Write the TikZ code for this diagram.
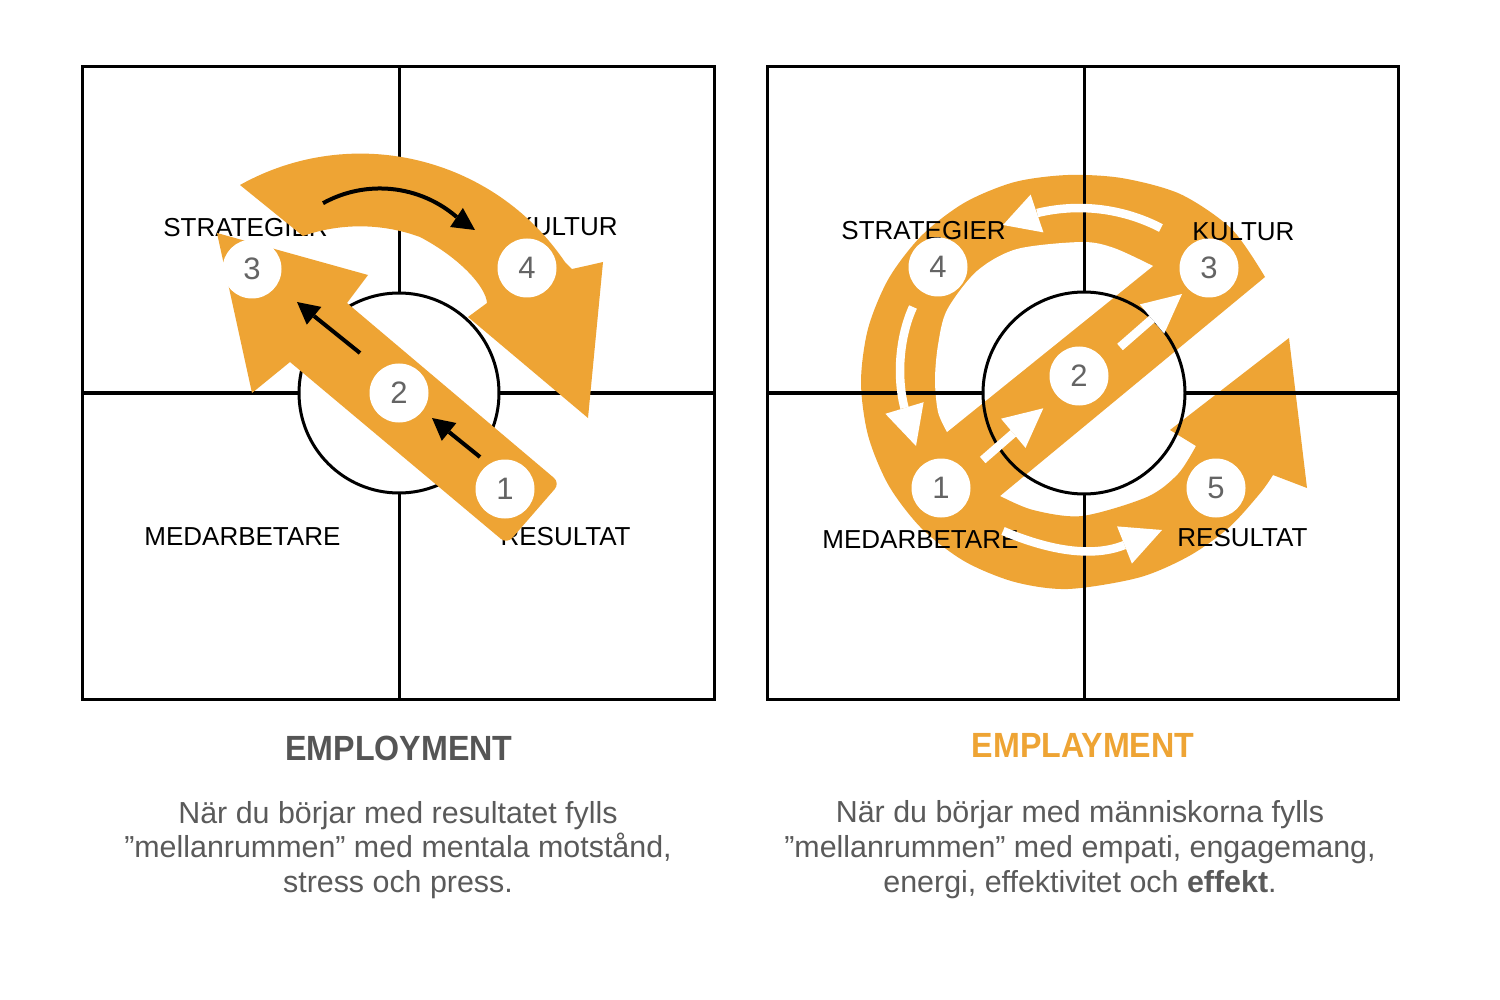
\documentclass[tikz,border=0pt]{standalone}
\usepackage{fontspec}
\setmainfont{Liberation Sans}
\usepackage{graphicx}
\definecolor{orng}{RGB}{238,164,52}
\definecolor{numgray}{RGB}{100,100,100}
\definecolor{txtgray}{RGB}{90,90,90}
\definecolor{ttlgray}{RGB}{85,85,85}
\begin{document}
\begin{tikzpicture}[x=0.5pt,y=-0.5pt,
  frame/.style={line width=1.5pt, draw=black},
  lbl/.style={anchor=base west, inner sep=0pt, font=\fontsize{13}{15}\selectfont},
  numc/.style={circle, fill=white, minimum size=29.5pt, inner sep=0pt, text=numgray, font=\fontsize{15.5}{18}\selectfont},
  blk/.style={line width=2pt, draw=black},
  wht/.style={line width=4.25pt, draw=white},
  body/.style={anchor=base, inner sep=0pt, text=txtgray, font=\fontsize{15.2}{17}\selectfont},
  ttl/.style={anchor=base, inner sep=0pt, font=\fontsize{17.5}{20}\selectfont\bfseries}
]
\fill[white] (0,0) rectangle (1500,1000);
\useasboundingbox (0,0) rectangle (1500,1000);

% ================= LEFT =================
\draw[frame] (82,67) rectangle (714,699);
\draw[frame] (399,67) -- (399,293);
\draw[frame] (399,493) -- (399,699);
\draw[frame] (82,393) -- (299,393);
\draw[frame] (499,393) -- (714,393);
\draw[frame] (399,393) circle[radius=100];

\node[lbl] (ls) at (163,237) {STRATEGIER};
\node[lbl, anchor=base east] (lk) at (618,236) {KULTUR};
\node[lbl] (lm) at (144,545) {MEDARBETARE};
\node[lbl, anchor=base east] (lr) at (631,545) {RESULTAT};

% curved orange arrow
\fill[orng] (240,185) arc[start angle=-119.2, end angle=-34, radius=247]
  -- (572,269) -- (590,265) -- (603,262) -- (588,418) -- (468,317) -- (487,303)
  .. controls (486,287) and (460,258) .. (420,237)
  arc[start angle=-69.8, end angle=-109.2, radius=173.7] -- cycle;
% straight orange arrow
\fill[orng] (217,233) -- (368,275) -- (347,303) [rounded corners=4pt] -- (560,483) -- (507,544) [sharp corners] -- (290,362) -- (252,393) -- cycle;

% black arrows
\draw[blk] (323,203.2) arc[start angle=-119, end angle=-49.2, radius=117.5];
\fill[black] (475,230) -- (462.9,208) -- (450.1,227) -- cycle;
\draw[blk] (480,457) -- (449,432);
\fill[black] (432,418) -- (456.4,423) -- (441.8,440.8) -- cycle;
\draw[blk] (360,353) -- (314,316);
\fill[black] (297,302) -- (321.4,306.9) -- (306.8,324.7) -- cycle;

\node[numc] (n3l) at (252,269) {3};
\node[numc] (n4l) at (527,268) {4};
\node[numc] (n2l) at (399,393) {2};
\node[numc] (n1l) at (505,489) {1};

\node[ttl, text=ttlgray] (t1) at (399,760) {\scalebox{0.92}[1]{EMPLOYMENT}};
\node[body] (b1a) at (398,823) {När du börjar med resultatet fylls};
\node[body] (b1b) at (398,857.5) {”mellanrummen” med mentala motstånd,};
\node[body] (b1c) at (398,892) {stress och press.};

% ================= RIGHT =================
\fill[orng] plot[smooth] coordinates {(1265,277) (1231.8,229.2) (1180.8,194.3) (1122.6,178.2) (1068,175) (1014.4,182.1) (964.5,202.7) (921.6,235.6) (888.7,278.5) (868.1,328.4) (861,382) (868.1,435.6) (888.7,485.5) (921.6,528.4) (964.5,561.3) (1014.4,581.9) (1068,589) (1139.1,577.5) (1189.6,555.7) (1229.3,527.2) (1260.3,493) (1273,475)}
  -- (1307,488) -- (1289,338) -- (1170,430)
  -- plot[smooth] coordinates {(1196,446) (1178,474) (1147,497) (1082,516) (1033,510) (1000,496)}
  -- cycle;
\fill[white] plot[smooth] coordinates {(947,432) (938,412) (935,380) (938,345) (947,310) (977,271) (1017,249) (1082,242) (1114,248) (1153,266)} -- cycle;

\draw[frame] (767,67) rectangle (1398,699);
\draw[frame] (1084,67) -- (1084,292);
\draw[frame] (1084,494) -- (1084,699);
\draw[frame] (767,393) -- (983,393);
\draw[frame] (1185,393) -- (1398,393);
\draw[frame] (1084,393) circle[radius=101];

\node[lbl] (rs) at (841,240) {STRATEGIER};
\node[lbl] (rk) at (1192,241) {KULTUR};
\node[lbl] (rm) at (822,548) {MEDARBETARE};
\node[lbl] (rr) at (1177,546) {RESULTAT};

% white arrows
\draw[wht] (1160.9,228) arc[start angle=-62.6, end angle=-103.6, radius=178];
\fill[white] (1003,225) -- (1030.6,194.6) -- (1043.4,232.4) -- cycle;
\draw[wht] (913,307) .. controls (900,335) and (896,375) .. (904.5,408);
\fill[white] (916,446) -- (885.4,413.8) -- (923.6,402.2) -- cycle;
\draw[wht] (1003,531) .. controls (1039.8,546.6) and (1087.4,559.8) .. (1124.5,545);
\fill[white] (1162,530) -- (1117.1,526.4) -- (1131.9,563.6) -- cycle;
\draw[wht] (982.7,460) -- (1013.3,433.3);
\fill[white] (1043.3,408.3) -- (1001.1,418.7) -- (1025.5,447.9) -- cycle;
\draw[wht] (1120,347) -- (1152,319);
\fill[white] (1182,294) -- (1139.8,304.4) -- (1164.2,333.6) -- cycle;

\node[numc] (n4r) at (938,267) {4};
\node[numc] (n3r) at (1209,268) {3};
\node[numc] (n2r) at (1079,376) {2};
\node[numc] (n1r) at (941,488) {1};
\node[numc] (n5r) at (1216,488) {5};

\node[ttl, text=orng] (t2) at (1083,757) {\scalebox{0.92}[1]{EMPLAYMENT}};
\node[body] (b2a) at (1080,822) {När du börjar med människorna fylls};
\node[body] (b2b) at (1080,857) {”mellanrummen” med empati, engagemang,};
\node[body] (b2c) at (1080,892) {energi, effektivitet och \textbf{effekt}.};
\end{tikzpicture}
\end{document}
